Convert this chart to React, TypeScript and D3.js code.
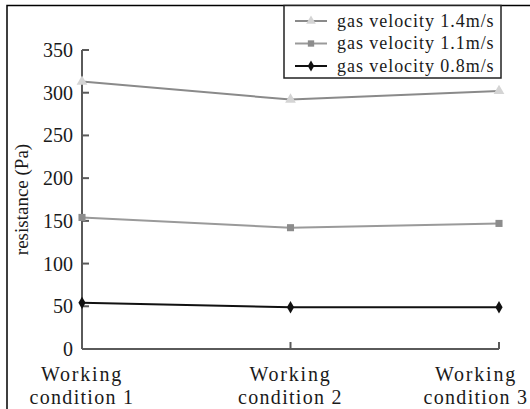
import React from 'react';
import * as d3 from 'd3';

const categories = ['Working condition 1', 'Working condition 2', 'Working condition 3'];
const seriesNames = ['gas velocity 1.4m/s', 'gas velocity 1.1m/s', 'gas velocity 0.8m/s'];
const v14 = [313, 292, 302];
const v11 = [154, 142, 147];
const v08 = [54, 49, 49];
const yTicks = [0, 50, 100, 150, 200, 250, 300, 350];

const width = 530;
const height = 409;
const margin = { top: 50, right: 31, bottom: 60, left: 82 };
const font = "'Liberation Serif', 'DejaVu Serif', serif";

const series = [
    { name: seriesNames[0], values: v14, line: '#8a8a8a', fill: '#d4d4d4', symbol: d3.symbolTriangle, size: 50 },
    { name: seriesNames[1], values: v11, line: '#9a9a9a', fill: '#8c8c8c', symbol: d3.symbolSquare, size: 50 },
    { name: seriesNames[2], values: v08, line: '#111111', fill: '#111111', symbol: d3.symbolDiamond, size: 45 },
];

export default function App() {
    const x = d3
        .scalePoint<string>()
        .domain(categories)
        .range([margin.left, width - margin.right])
        .padding(0);
    const y = d3
        .scaleLinear()
        .domain([0, 350])
        .range([height - margin.bottom, margin.top]);

    const lineGen = d3
        .line<number>()
        .x((_, i) => x(categories[i]) as number)
        .y((d) => y(d));

    const axisColor = '#5a5a5a';
    const y0 = y(0);
    const textStyle = { fontFamily: font };

    return (
        <svg
            width={width}
            height={height}
            style={{ position: 'absolute', left: 0, top: 0, background: '#fff', fontFamily: font }}
        >
            {/* outer frame, clipped at right and bottom */}
            <rect x={7} y={5.5} width={width + 10} height={height + 10} fill="none" stroke="#000" strokeWidth={1.5} />

            {/* y axis */}
            <line x1={margin.left} x2={margin.left} y1={y(350)} y2={y0} stroke={axisColor} strokeWidth={2} />
            {yTicks.map((t) => (
                <g key={t}>
                    <line x1={margin.left} x2={margin.left + 7} y1={y(t)} y2={y(t)} stroke={axisColor} strokeWidth={2} />
                    <text x={73} y={y(t)} dy="0.35em" textAnchor="end" fontSize={20} fill="#1a1a1a" style={textStyle}>
                        {t}
                    </text>
                </g>
            ))}
            <text
                transform={`translate(21, ${(margin.top + y0) / 2}) rotate(-90)`}
                textAnchor="middle"
                dy="0.35em"
                fontSize={19}
                fill="#1a1a1a"
                style={textStyle}
            >
                resistance (Pa)
            </text>

            {/* x axis */}
            <line x1={margin.left} x2={width - margin.right} y1={y0} y2={y0} stroke={axisColor} strokeWidth={2} />
            {categories.map((c, i) => {
                const cx = x(c) as number;
                // the last label is pulled left so it stays inside the picture
                const lx = i === categories.length - 1 ? 476 : cx;
                const words = c.split(' ');
                return (
                    <g key={c}>
                        {i > 0 && <line x1={cx} x2={cx} y1={y0} y2={y0 - 7} stroke={axisColor} strokeWidth={2} />}
                        <text x={lx} y={381} textAnchor="middle" fontSize={20} letterSpacing={1.8} fill="#1a1a1a" style={textStyle}>
                            {words[0]}
                        </text>
                        <text x={lx} y={404} textAnchor="middle" fontSize={20} letterSpacing={1.3} fill="#1a1a1a" style={textStyle}>
                            {words.slice(1).join(' ')}
                        </text>
                    </g>
                );
            })}

            {/* series */}
            {series.map((s) => (
                <g key={s.name}>
                    <path d={lineGen(s.values) || ''} fill="none" stroke={s.line} strokeWidth={2} />
                    {s.values.map((v, i) => (
                        <path
                            key={i}
                            d={d3.symbol().type(s.symbol).size(s.size)() || ''}
                            transform={`translate(${x(categories[i])}, ${y(v)})`}
                            fill={s.fill}
                        />
                    ))}
                </g>
            ))}

            {/* legend */}
            <rect x={284} y={5.5} width={217} height={72.5} fill="#fff" stroke="#222" strokeWidth={1.5} />
            {series.map((s, i) => {
                const ly = 21 + i * 22.5;
                return (
                    <g key={s.name}>
                        <line x1={295} x2={327} y1={ly} y2={ly} stroke={s.line} strokeWidth={2} />
                        <path
                            d={d3.symbol().type(s.symbol).size(s.size * 0.8)() || ''}
                            transform={`translate(311, ${ly})`}
                            fill={s.fill}
                        />
                        <text x={337} y={ly} dy="0.32em" fontSize={18} letterSpacing={0.95} fill="#1a1a1a" style={textStyle}>
                            {s.name}
                        </text>
                    </g>
                );
            })}
        </svg>
    );
}
